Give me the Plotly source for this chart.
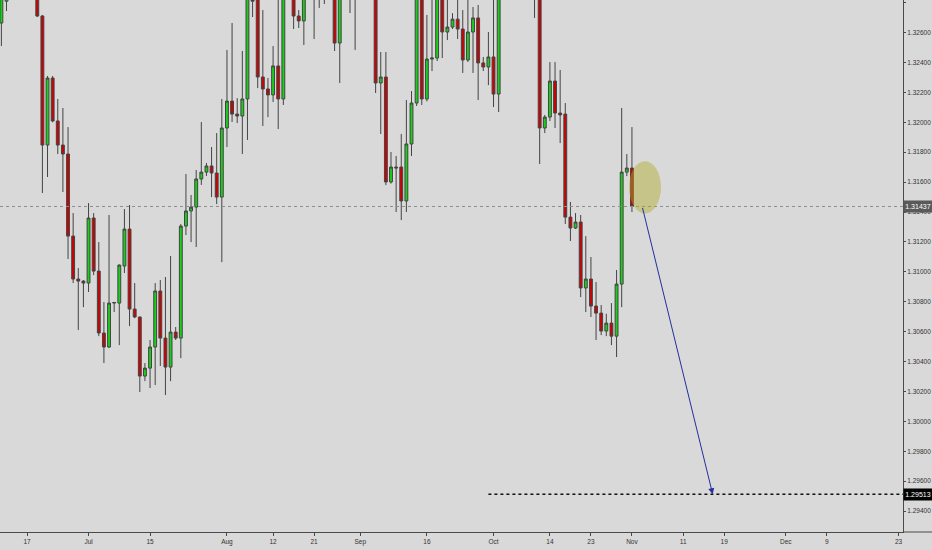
import pandas as pd
import plotly.graph_objects as go

# daily bars 11 Jun - 1 Nov 2018, Sunday sessions included, no Saturday bars
first_day = "2018-06-11"
last_day = "2018-11-01"

opens = [
    1.32664, 1.32810, 1.32900, 1.33120, 1.33380, 1.33250,
    1.33050, 1.33180, 1.32711, 1.31848, 1.32296, 1.32009,
    1.31848, 1.31788, 1.31239, 1.30952, 1.30938, 1.30925,
    1.31360, 1.31005, 1.30591, 1.30497, 1.30791, 1.30791,
    1.31039, 1.31286, 1.30751, 1.30698, 1.30303, 1.30356,
    1.30497, 1.30872, 1.30557, 1.30363, 1.30597, 1.30557,
    1.31306, 1.31407, 1.31433, 1.31621, 1.31667, 1.31708,
    1.31661, 1.31500, 1.31962, 1.32142, 1.32055, 1.32042,
    1.32156, 1.32960, 1.32830, 1.32303, 1.32223, 1.32183,
    1.32377, 1.32156, 1.32920, 1.33050, 1.32711, 1.32678,
    1.32950, 1.33180, 1.32960, 1.33100, 1.32980, 1.33100,
    1.32530, 1.32900, 1.33050, 1.32920, 1.33000, 1.33220,
    1.33120, 1.32980, 1.32263, 1.32303, 1.31601, 1.31701,
    1.31701, 1.31474, 1.31855, 1.32129, 1.32920, 1.32156,
    1.32423, 1.32430, 1.32900, 1.32604, 1.32637, 1.32690,
    1.32624, 1.32417, 1.32604, 1.32698, 1.32397, 1.32370,
    1.32437, 1.32189, 1.32950, 1.33100, 1.33280, 1.33120,
    1.33180, 1.33080, 1.33000, 1.32900, 1.31962, 1.32035,
    1.32276, 1.32062, 1.32055, 1.31366, 1.31293, 1.31333,
    1.30892, 1.30952, 1.30771, 1.30724, 1.30604, 1.30657,
    1.30570, 1.30918, 1.31667, 1.31694,
]
highs = [
    1.32960, 1.32980, 1.33180, 1.33450, 1.33620, 1.33400,
    1.33300, 1.33350, 1.32718, 1.32310, 1.32310, 1.32156,
    1.32096, 1.31968, 1.31393, 1.31025, 1.30945, 1.31460,
    1.31393, 1.31199, 1.30798, 1.31380, 1.30798, 1.31050,
    1.31420, 1.31447, 1.30925, 1.30700, 1.30390, 1.30544,
    1.30925, 1.30945, 1.30965, 1.31106, 1.30631, 1.31320,
    1.31654, 1.31514, 1.31681, 1.32002, 1.31728, 1.31835,
    1.31928, 1.32156, 1.32484, 1.32664, 1.32162, 1.32477,
    1.33020, 1.33100, 1.32900, 1.32751, 1.32296, 1.32510,
    1.32840, 1.33000, 1.33180, 1.33120, 1.32751, 1.33050,
    1.33250, 1.33300, 1.33220, 1.33200, 1.33250, 1.33180,
    1.33000, 1.33150, 1.33220, 1.33120, 1.33300, 1.33450,
    1.33280, 1.33050, 1.32470, 1.32470, 1.31801, 1.31775,
    1.31922, 1.32149, 1.32209, 1.33020, 1.32980, 1.32718,
    1.32840, 1.32980, 1.32960, 1.32830, 1.32730, 1.32830,
    1.32751, 1.32830, 1.32771, 1.32785, 1.32437, 1.32604,
    1.32830, 1.33050, 1.33180, 1.33350, 1.33420, 1.33260,
    1.33320, 1.33200, 1.33150, 1.32960, 1.32049, 1.32403,
    1.32403, 1.32350, 1.32129, 1.31467, 1.31393, 1.31380,
    1.31239, 1.31099, 1.30932, 1.30778, 1.30720, 1.30791,
    1.31012, 1.32096, 1.31788, 1.31968,
]
lows = [
    1.32510, 1.32744, 1.32860, 1.33000, 1.33180, 1.32980,
    1.32920, 1.32704, 1.31527, 1.31634, 1.32000, 1.31788,
    1.31534, 1.31086, 1.30925, 1.30611, 1.30764, 1.30865,
    1.30978, 1.30570, 1.30390, 1.30490, 1.30731, 1.30510,
    1.30992, 1.30637, 1.30690, 1.30196, 1.30269, 1.30223,
    1.30243, 1.30370, 1.30176, 1.30269, 1.30544, 1.30423,
    1.31246, 1.31199, 1.31166, 1.31581, 1.31641, 1.31500,
    1.31453, 1.31065, 1.31835, 1.32002, 1.31995, 1.31788,
    1.31882, 1.32704, 1.32229, 1.31975, 1.32035, 1.32136,
    1.31955, 1.32116, 1.32870, 1.32624, 1.32631, 1.32517,
    1.32880, 1.32557, 1.32765, 1.32791, 1.32900, 1.32477,
    1.32263, 1.32840, 1.32731, 1.32484, 1.32900, 1.33050,
    1.32880, 1.32196, 1.31922, 1.31580, 1.31590, 1.31400,
    1.31346, 1.31400, 1.31775, 1.32109, 1.32116, 1.32140,
    1.32343, 1.32410, 1.32430, 1.32550, 1.32624, 1.32557,
    1.32330, 1.32403, 1.32330, 1.32149, 1.32343, 1.32249,
    1.32102, 1.32069, 1.32880, 1.33000, 1.33050, 1.32960,
    1.33020, 1.32920, 1.32698, 1.31721, 1.31928, 1.32009,
    1.31962, 1.31861, 1.31320, 1.31206, 1.31286, 1.30831,
    1.30731, 1.30698, 1.30544, 1.30577, 1.30570, 1.30510,
    1.30430, 1.30764, 1.31640, 1.31400,
]
closes = [
    1.32890, 1.32900, 1.33120, 1.33380, 1.33250, 1.33050,
    1.33180, 1.32711, 1.31848, 1.32296, 1.32009, 1.31848,
    1.31788, 1.31239, 1.30952, 1.30938, 1.30925, 1.31360,
    1.31005, 1.30591, 1.30497, 1.30791, 1.30795, 1.31045,
    1.31286, 1.30751, 1.30698, 1.30303, 1.30356, 1.30497,
    1.30872, 1.30557, 1.30363, 1.30597, 1.30557, 1.31306,
    1.31407, 1.31433, 1.31621, 1.31667, 1.31708, 1.31661,
    1.31500, 1.31962, 1.32142, 1.32055, 1.32042, 1.32156,
    1.32950, 1.32810, 1.32303, 1.32223, 1.32183, 1.32377,
    1.32156, 1.32920, 1.33100, 1.32711, 1.32678, 1.32950,
    1.33180, 1.32960, 1.33100, 1.32980, 1.33120, 1.32530,
    1.32900, 1.33050, 1.32920, 1.33000, 1.33220, 1.33120,
    1.32980, 1.32263, 1.32303, 1.31601, 1.31701, 1.31695,
    1.31474, 1.31855, 1.32129, 1.32920, 1.32156, 1.32423,
    1.32430, 1.32900, 1.32604, 1.32637, 1.32690, 1.32624,
    1.32417, 1.32604, 1.32698, 1.32397, 1.32370, 1.32437,
    1.32189, 1.32950, 1.33100, 1.33280, 1.33120, 1.33180,
    1.33080, 1.33000, 1.32900, 1.31962, 1.32035, 1.32276,
    1.32062, 1.32049, 1.31366, 1.31293, 1.31333, 1.30892,
    1.30952, 1.30771, 1.30724, 1.30604, 1.30657, 1.30570,
    1.30918, 1.31667, 1.31694, 1.31437,
]

last_price = 1.31437
target_price = 1.29513

tick_dates = ["2018-06-17", "2018-07-01", "2018-07-15", "2018-08-01", "2018-08-12",
              "2018-08-21", "2018-08-31", "2018-09-16", "2018-10-01", "2018-10-14",
              "2018-10-23", "2018-11-01", "2018-11-11", "2018-11-19", "2018-12-01",
              "2018-12-09", "2018-12-23"]
tick_text = ["17", "Jul", "15", "Aug", "12", "21", "Sep", "16", "Oct", "14",
             "23", "Nov", "11", "19", "Dec", "9", "23"]

days = pd.date_range(first_day, last_day, freq="D")
bar_dates = days[days.dayofweek != 5]
saturdays = pd.date_range("2018-06-09", last_day, freq="W-SAT")

bg = "#d9d9d9"
axis_col = "#4a4a4a"
font = dict(family="Liberation Sans", size=6.5, color="#333333")

fig = go.Figure(go.Candlestick(
    x=bar_dates, open=opens, high=highs, low=lows, close=closes,
    increasing=dict(fillcolor="#18d018", line=dict(color="#444444", width=1)),
    decreasing=dict(fillcolor="#d00000", line=dict(color="#444444", width=1)),
    hoverinfo="none", showlegend=False,
))

# last price line and target level
fig.add_hline(y=last_price, line=dict(color="#8e8e8e", width=1, dash="dot"))
fig.add_shape(type="line", x0="2018-09-30", x1="2018-12-31", y0=target_price, y1=target_price,
              line=dict(color="#111111", width=1.5, dash="dot"))

# bottom axis line runs on under the price scale
fig.add_shape(type="line", xref="paper", yref="paper", x0=1, x1=1.04, y0=0, y1=0,
              line=dict(color=axis_col, width=1))

# highlight on the rejection candle
fig.add_shape(type="circle", x0="2018-10-31 10:00", x1="2018-11-06 16:00", y0=1.3139, y1=1.3174,
              fillcolor="rgba(175,170,40,0.45)", line=dict(width=0), layer="above")

fig.add_annotation(x="2018-11-16 18:00", y=target_price, ax="2018-11-03", ay=last_price,
                   xref="x", yref="y", axref="x", ayref="y", text="", showarrow=True,
                   arrowhead=2, arrowsize=1.2, arrowwidth=1, arrowcolor="#22309a")

# price labels on the scale
for price, col in [(last_price, "#5a5a5a"), (target_price, "#000000")]:
    fig.add_annotation(x=1, xref="paper", xanchor="left", y=price, yref="y", yanchor="middle",
                       text=f"{price:.5f}", showarrow=False, bgcolor=col,
                       width=26, height=9, borderpad=1,
                       font=dict(family="Liberation Sans", size=7, color="white"))

fig.update_xaxes(
    type="date",
    range=["2018-06-10 17:30", "2018-12-23 21:00"],
    rangebreaks=[dict(values=list(saturdays), dvalue=86400000)],
    rangeslider_visible=False,
    tickmode="array", tickvals=tick_dates, ticktext=tick_text,
    ticks="outside", ticklen=3, tickcolor=axis_col,
    showline=True, linecolor=axis_col, linewidth=1,
    showgrid=False, zeroline=False, tickfont=font,
)
fig.update_yaxes(
    side="right", range=[1.2926, 1.32818],
    tick0=1.29, dtick=0.002, tickformat=".5f",
    ticks="outside", ticklen=2, tickcolor=axis_col,
    showline=True, linecolor=axis_col, linewidth=1,
    showgrid=False, zeroline=False, tickfont=font, automargin=False,
)
fig.update_layout(
    width=932, height=550,
    margin=dict(l=0, r=29, t=0, b=18),
    paper_bgcolor=bg, plot_bgcolor=bg,
    boxgap=0.2,
)

# drop the browser's default page margin so the chart fills the window
fig.write_html("out.html", config={"displayModeBar": False},
               post_script="document.body.style.margin = '0';")
